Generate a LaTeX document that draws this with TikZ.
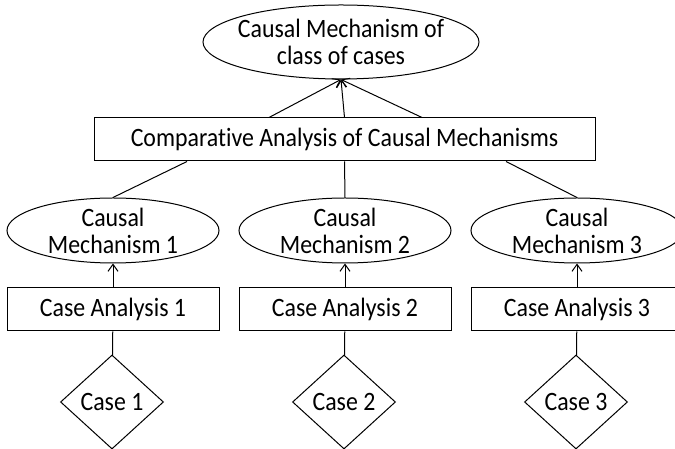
\documentclass[tikz,border=0pt]{standalone}
\usepackage{fontspec}
\setmainfont[FakeStretch=0.9, Ligatures={NoCommon,NoContextual}, Contextuals=NoAlternate, RawFeature={-clig}]{Carlito}
\usetikzlibrary{positioning, shapes.geometric, arrows.meta}

\begin{document}
\begin{tikzpicture}[x=1pt, y=1pt, line width=1pt,
    font=\fontsize{26.5}{27}\selectfont]
    \useasboundingbox (0,0) rectangle (675,449);

    % Define styles
    \tikzset{
        mechanism/.style={draw, ellipse, align=center, inner sep=-6pt,
            minimum width=212pt, minimum height=65pt},
        analysis/.style={draw, rectangle, inner sep=0pt,
            minimum width=212pt, minimum height=43pt},
        casenode/.style={draw, diamond, inner sep=0pt,
            minimum width=103pt, minimum height=94pt},
        upwards/.style={-{Straight Barb[length=7pt, width=10pt, line width=1pt]}}
    }

    % Define nodes
	\node[mechanism, minimum width=276pt, minimum height=74pt] (ClassMech) at (341, 407) {Causal Mechanism of\\class of cases};
	\node[analysis, minimum width=501pt] (Comparative) at (344.5, 309.5) {Comparative Analysis of Causal Mechanisms};
	\node[mechanism] (Mech1) at (113, 218.5) {Causal\\Mechanism 1};
	\node[mechanism] (Mech2) at (345, 218.5) {Causal\\Mechanism 2};
	\node[mechanism] (Mech3) at (577, 218.5) {Causal\\Mechanism 3};
	\node[analysis] (Analysis1) at (113, 139.5) {Case Analysis 1};
	\node[analysis] (Analysis2) at (345, 139.5) {Case Analysis 2};
	\node[analysis] (Analysis3) at (577, 139.5) {Case Analysis 3};
	\node[casenode] (Case1) at (112, 47) {Case 1};
	\node[casenode] (Case2) at (344, 47) {Case 2};
	\node[casenode] (Case3) at (576, 47) {Case 3};

    % Draw connections
	\draw[upwards] ([xshift=-75.5pt]Comparative.north) -- (ClassMech.south);
	\draw[upwards] (Comparative.north) -- (ClassMech.south);
	\draw[upwards] ([xshift=77.5pt]Comparative.north) -- (ClassMech.south);
	\draw ([xshift=-157.5pt]Comparative.south) -- (Mech1.north);
	\draw (Comparative.south) -- (Mech2.north);
	\draw ([xshift=161.5pt]Comparative.south) -- (Mech3.north);
	\draw[upwards] (Analysis1) -- (Mech1);
	\draw[upwards] (Analysis2) -- (Mech2);
	\draw[upwards] (Analysis3) -- (Mech3);
	\draw (Case1) -- (Analysis1);
	\draw (Case2) -- (Analysis2);
	\draw (Case3) -- (Analysis3);
\end{tikzpicture}
\end{document}
